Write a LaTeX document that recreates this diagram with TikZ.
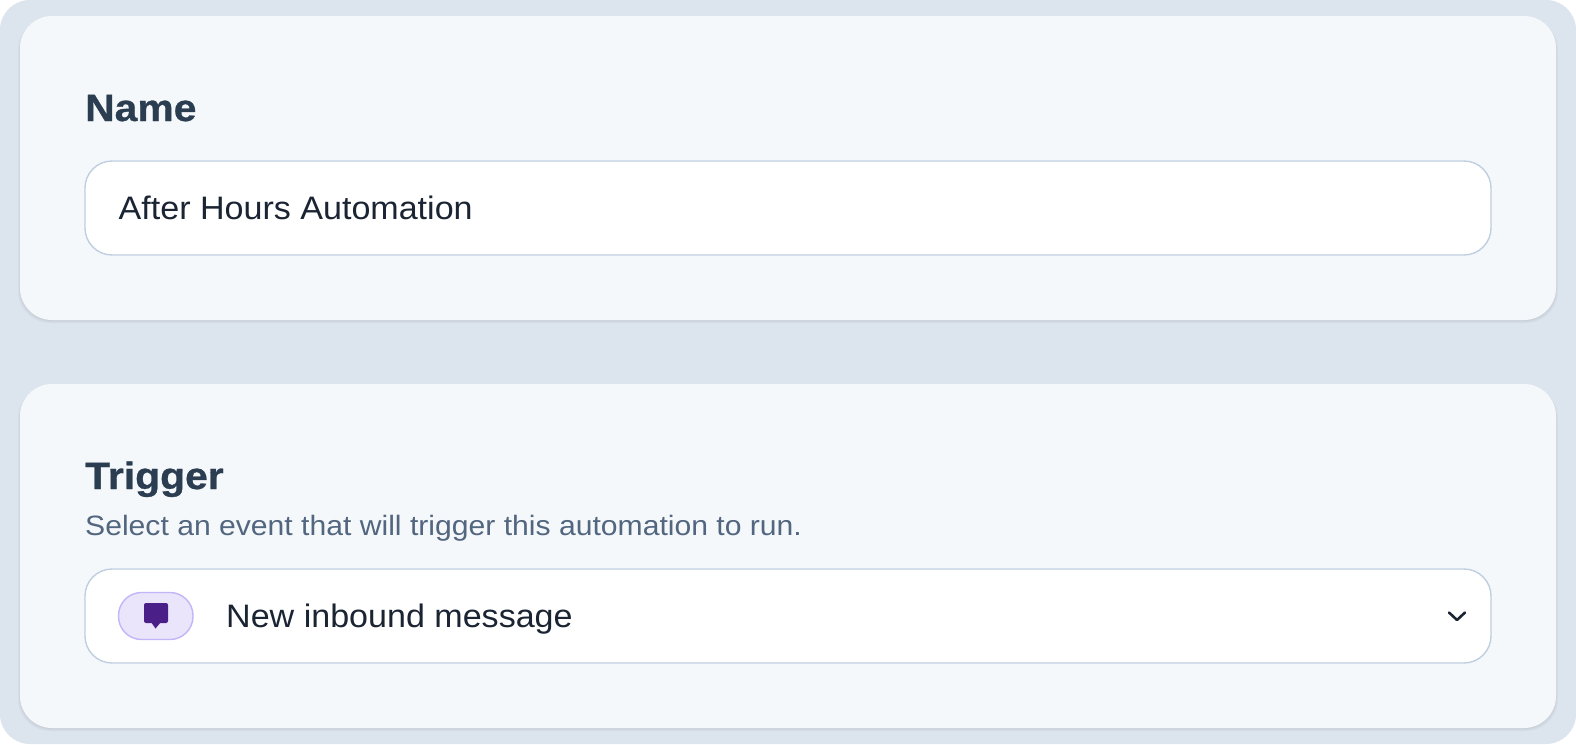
\documentclass[tikz,border=0pt]{standalone}
\usepackage{fontspec}
\setmainfont{Liberation Sans}
\newfontfamily\headfont[FakeStretch=1.075,FakeBold=0.7]{Liberation Sans Bold}
\newfontfamily\subfont[FakeStretch=1.076]{Liberation Sans}
\newfontfamily\fieldfont[FakeStretch=1.048]{Liberation Sans}
\definecolor{pagebg}{HTML}{DCE4ED}
\definecolor{cardbg}{HTML}{F5F8FB}
\definecolor{fieldline}{HTML}{BFCFE0}
\definecolor{pillbg}{HTML}{EAE5FB}
\definecolor{pillline}{HTML}{C4B5F8}
\definecolor{iconcol}{HTML}{4A2088}
\definecolor{headcol}{HTML}{2B3D50}
\definecolor{subcol}{HTML}{52667F}
\definecolor{inkcol}{HTML}{1A2433}
\tikzset{
  x=1pt,y=-1pt,
  cardshape/.style={fill=cardbg,rounded corners=32pt},
  cardshadow/.style={fill=black,opacity=.028,rounded corners=32pt},
  fieldshape/.style={draw=fieldline,line width=1.4pt,fill=white,rounded corners=27pt},
  headtext/.style={anchor=base west,inner sep=0pt,text=headcol,font=\headfont\fontsize{38}{38}\selectfont},
  subtext/.style={anchor=base west,inner sep=0pt,text=subcol,font=\subfont\fontsize{28}{28}\selectfont},
  fieldtext/.style={anchor=base west,inner sep=0pt,text=inkcol,font=\fieldfont\fontsize{32.5}{32.5}\selectfont},
}
\begin{document}
\begin{tikzpicture}
\useasboundingbox (0,0) rectangle (1576,744);
\fill[white] (0,0) rectangle (1576,744);
\fill[pagebg,rounded corners=30pt] (0,0) rectangle (1576,744);
% cards
\foreach \t/\b in {16/320,384/728}{
  \fill[cardshadow] (18,\t+2) rectangle (1558,\b+3);
  \fill[cardshadow] (19,\t+2) rectangle (1557,\b+2);
  \fill[cardshadow] (20,\t+2) rectangle (1556,\b+1);
  \fill[cardshape] (20,\t) rectangle (1556,\b);
}
% fields
\draw[fieldshape] (85,161) rectangle (1491,255);
\draw[fieldshape] (85,569) rectangle (1491,663);
% texts
\node[headtext] (nameLabel) at (85,121) {Name};
\node[fieldtext] (nameValue) at (118.5,219) {After Hours Automation};
\node[headtext] (triggerLabel) at (85,489) {Trigger};
\node[subtext] (triggerHelp) at (85,535) {Select an event that will trigger this automation to run.};
\node[fieldtext] (triggerValue) at (226,627) {New inbound message};
% pill and icon
\draw[fill=pillbg,draw=pillline,line width=1.4pt,rounded corners=23pt] (118.5,592.5) rectangle (193,639.5);
\fill[iconcol,rounded corners=2pt] (144,603) rectangle (168,623);
\fill[iconcol] (151,622) -- (161,622) -- (155.5,628.5) -- cycle;
% chevron
\draw[inkcol,line width=2.6pt,line cap=round,line join=round] (1449,612.5) -- (1457,620) -- (1465,612.5);
\end{tikzpicture}
\end{document}
